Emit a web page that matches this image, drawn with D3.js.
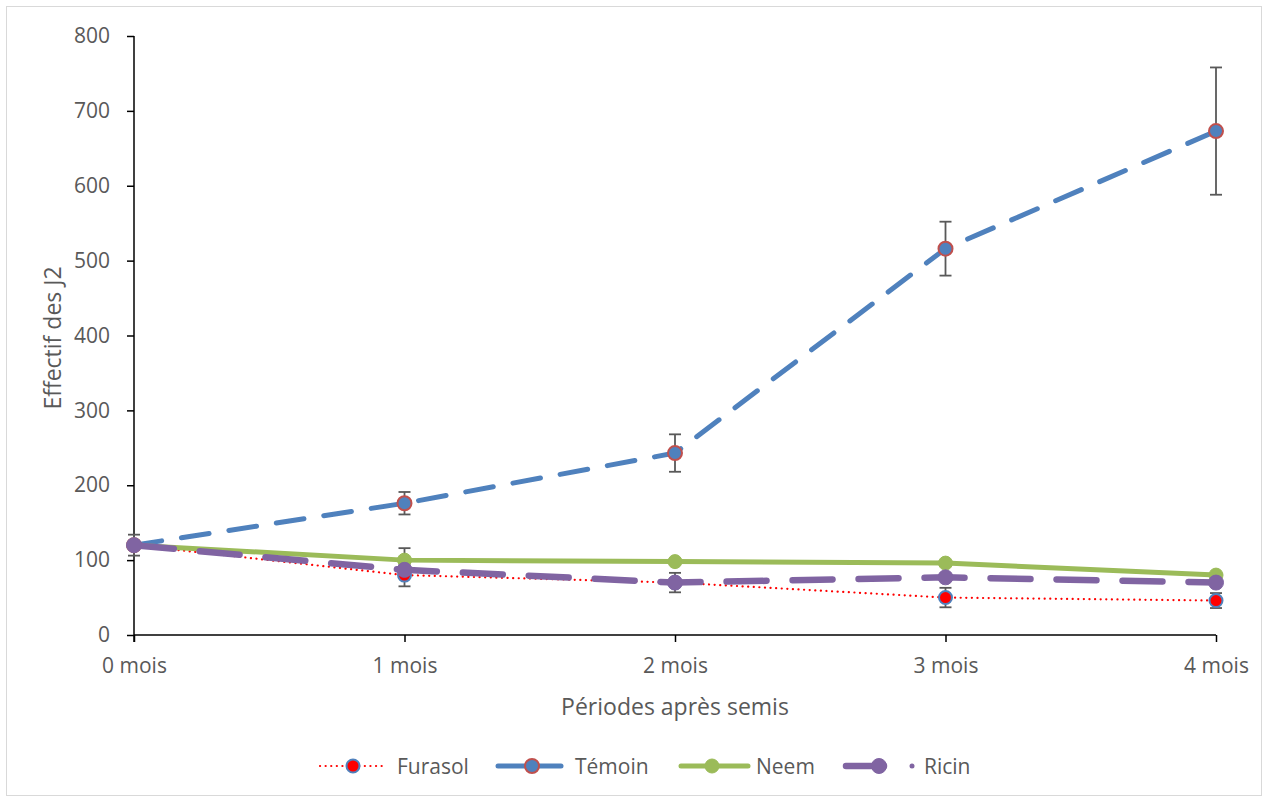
<!DOCTYPE html>
<html><head><meta charset="utf-8">
<script src="https://cdn.jsdelivr.net/npm/d3@7"></script>
<style>body{margin:0;background:#fff;} text{font-family:"Open Sans",sans-serif;fill:#595959;}</style>
</head><body>
<svg id="c" width="1268" height="801"></svg>
<script>
const categories = ["0 mois","1 mois","2 mois","3 mois","4 mois"];
const yTicks = [0,100,200,300,400,500,600,700,800];
const furasol = [120, 80, 70, 50, 46];
const temoin  = [120, 176, 243, 516, 673];
const neem    = [120, 100, 98, 96, 80];
const ricin   = [120, 87, 70, 77, 70];
const furasolErr = [14, 15, 13, 13, 10];
const temoinErr  = [0, 15, 25, 36, 85];
const neemErr    = [0, 16, 0, 0, 0];
const ricinErr   = [0, 0, 0, 0, 0];

const series = [
  {name:"Furasol", values:furasol, err:furasolErr, line:"#FF0000", width:2.2, dash:"0.1 5.5", cap:"round", mfill:"#FF0000", mstroke:"#4F81BD", r:6.5, msw:2},
  {name:"Témoin", values:temoin, err:temoinErr, line:"#4F81BD", width:5, dash:"28 20", cap:"round", mfill:"#4F81BD", mstroke:"#C0504D", r:7, msw:2},
  {name:"Neem", values:neem, err:neemErr, line:"#9BBB59", width:5, dash:null, cap:"round", mfill:"#9BBB59", mstroke:"#9BBB59", r:7, msw:1},
  {name:"Ricin", values:ricin, err:ricinErr, line:"#8064A2", width:6.5, dash:"40 26", cap:"round", mfill:"#8064A2", mstroke:"#8064A2", r:7.5, msw:1}
];

const svg = d3.select("#c");
svg.append("rect").attr("x",6.5).attr("y",6.5).attr("width",1255).attr("height",789)
  .attr("fill","#fff").attr("stroke","#D9D9D9").attr("stroke-width",1);

const x = d3.scalePoint().domain(categories).range([134,1216]);
const y = d3.scaleLinear().domain([0,800]).range([635,36]);

// axes
const yAxis = svg.append("g").attr("transform","translate(134,0)")
  .call(d3.axisLeft(y).tickValues(yTicks).tickSize(7).tickPadding(17));
const xAxis = svg.append("g").attr("transform","translate(0,635)")
  .call(d3.axisBottom(x).tickSize(7).tickPadding(16));
[yAxis,xAxis].forEach(g=>{
  g.select(".domain").attr("stroke","#000").attr("stroke-width",1.5);
  g.selectAll(".tick line").attr("stroke","#000").attr("stroke-width",1.5);
  g.selectAll(".tick text").style("font-family","'Open Sans',sans-serif").style("font-size","21px").attr("fill","#595959");
});
xAxis.select(".domain").attr("d","M134,0H1216");
yAxis.select(".domain").attr("d","M0,36V642");

// titles
svg.append("text").attr("x",675).attr("y",715).attr("text-anchor","middle")
  .style("font-size","23px").text("Périodes après semis");
svg.append("text").attr("transform","translate(61,338) rotate(-90)").attr("text-anchor","middle")
  .style("font-size","23px").text("Effectif des J2");

// error bars
const eb = svg.append("g");
series.forEach(s=>{
  s.values.forEach((v,i)=>{
    const e = s.err[i]; if(!e) return;
    const cx = x(categories[i]);
    eb.append("line").attr("x1",cx).attr("x2",cx).attr("y1",y(v+e)).attr("y2",y(v-e))
      .attr("stroke","#595959").attr("stroke-width",1.8);
    [v+e,v-e].forEach(t=>eb.append("line").attr("x1",cx-6).attr("x2",cx+6).attr("y1",y(t)).attr("y2",y(t))
      .attr("stroke","#595959").attr("stroke-width",1.8));
  });
});

// lines + markers
const lineGen = d3.line().x((d,i)=>x(categories[i])).y(d=>y(d));
series.forEach(s=>{
  svg.append("path").attr("d",lineGen(s.values)).attr("fill","none")
    .attr("stroke",s.line).attr("stroke-width",s.width).attr("stroke-linecap",s.cap)
    .attr("stroke-linejoin","round").attr("stroke-dasharray",s.dash);
  svg.append("g").selectAll("circle").data(s.values).join("circle")
    .attr("cx",(d,i)=>x(categories[i])).attr("cy",d=>y(d)).attr("r",s.r)
    .attr("fill",s.mfill).attr("stroke",s.mstroke).attr("stroke-width",s.msw);
});

// legend
const legendPos = [
  {x1:320,x2:383,mx:353,tx:397},
  {x1:498,x2:561,mx:532,tx:575},
  {x1:681,x2:748,mx:712,tx:756},
  {x1:846,x2:884,mx:879,tx:924}
];
const ly = 766;
const lg = svg.append("g");
series.forEach((s,i)=>{
  const p = legendPos[i];
  lg.append("line").attr("x1",p.x1).attr("x2",p.x2).attr("y1",ly).attr("y2",ly)
    .attr("stroke",s.line).attr("stroke-width",s.width).attr("stroke-linecap",s.cap)
    .attr("stroke-dasharray", s.name==="Furasol" ? s.dash : null);
  lg.append("circle").attr("cx",p.mx).attr("cy",ly).attr("r",s.r)
    .attr("fill",s.mfill).attr("stroke",s.mstroke).attr("stroke-width",s.msw);
  if(s.name==="Ricin"){
    lg.append("circle").attr("cx",912).attr("cy",ly).attr("r",2.5).attr("fill",s.line);
  }
  lg.append("text").attr("x",p.tx).attr("y",ly+8).style("font-size","21px").text(s.name);
});
</script>
</body></html>
